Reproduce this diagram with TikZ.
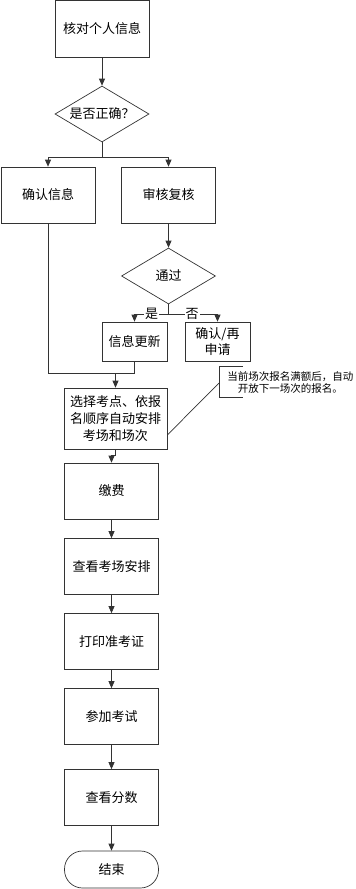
\documentclass[tikz,border=0pt]{standalone}
\usepackage{fontspec}
\setmainfont{Noto Sans CJK SC}
\usetikzlibrary{arrows.meta, positioning, calc, shapes.geometric}

\begin{document}
\begin{tikzpicture}[x=1pt, y=-1pt, >={Triangle[length=7pt, width=6pt]},
    line width=0.7pt, draw=black!80,
    box/.style={draw=black!80, minimum width=94pt, minimum height=56pt,
                inner sep=2pt, align=center, font=\fontsize{13}{16.7}\selectfont},
    smallbox/.style={box, minimum width=65pt, minimum height=39pt},
    choice/.style={draw=black!80, diamond, aspect=1.68, minimum width=94pt,
                   minimum height=56pt, inner sep=0pt, font=\fontsize{13}{16.7}\selectfont},
    endbox/.style={box, rounded corners=18pt, minimum height=37pt},
    note/.style={anchor=west, inner xsep=0pt, inner ysep=0pt, minimum height=30pt,
                 align=center, font=\fontsize{10.5}{12}\selectfont},
    flow/.style={->, draw=black!80},
    tag/.style={fill=white, inner sep=1pt, font=\fontsize{13}{13}\selectfont}]
  \useasboundingbox (0,0) rectangle (356,889);
  \node[box, minimum height=57pt] (check) at (102,28.5) {核对个人信息};
  \node[choice] (correct) at (102,114) {是否正确？};
  \node[box] (confirm) at (48,195) {确认信息};
  \node[box] (review) at (168.5,195) {审核复核};
  \node[choice] (pass) at (168.5,276) {通过};
  \node[smallbox] (update) at (134.5,341.5) {信息更新};
  \node[smallbox] (retry) at (217.5,341.5) {确认/再\\申请};
  \node[box, minimum width=103pt, minimum height=61pt] (select) at (115.5,418.5)
    {选择考点、依报\\名顺序自动安排\\考场和场次};
  \node[note] (remark) at (227,382) {当前场次报名满额后，自动\\开放下一场次的报名。};
  \node[box] (pay) at (111.5,491) {缴费};
  \node[box] (seat) at (111.5,566.5) {查看考场安排};
  \node[box] (ticket) at (111.5,641.5) {打印准考证};
  \node[box] (exam) at (111.5,716.5) {参加考试};
  \node[box] (score) at (111.5,797.5) {查看分数};
  \node[endbox] (finish) at (111.5,869.5) {结束};

  \coordinate (fork1) at (102,157);
  \coordinate (fork2) at (168.5,314);
  \coordinate (join) at (134.5,373);
  \coordinate (merge) at (select.north |- join);

  \draw[flow] (check) -- (correct);
  \draw (correct) -- (fork1);
  \draw[flow] (fork1) -| (confirm);
  \draw[flow] (fork1) -| (review);
  \draw[flow] (review) -- (pass);
  \draw (pass) -- (fork2);
  \draw[flow] (fork2) -| node[tag, pos=0.25] {是} (update);
  \draw[flow] (fork2) -| node[tag, pos=0.24] {否} (retry);
  \draw (confirm) |- (join);
  \draw (update) -- (join);
  \draw[flow] (merge) -- (select);
  \draw[flow] (select.south) -- ++(0,6) -| (pay);
  \draw[flow] (pay) -- (seat);
  \draw[flow] (seat) -- (ticket);
  \draw[flow] (ticket) -- (exam);
  \draw[flow] (exam) -- (score);
  \draw[flow] (score) -- (finish);

  \draw ($(remark.north west)+(16,0)$) -- ++(-24,0) |- ($(remark.south west)+(16,0)$);
  \draw ([xshift=-8pt, yshift=-1pt]remark.west) -- ([yshift=-16.5pt]select.east);
\end{tikzpicture}
\end{document}
